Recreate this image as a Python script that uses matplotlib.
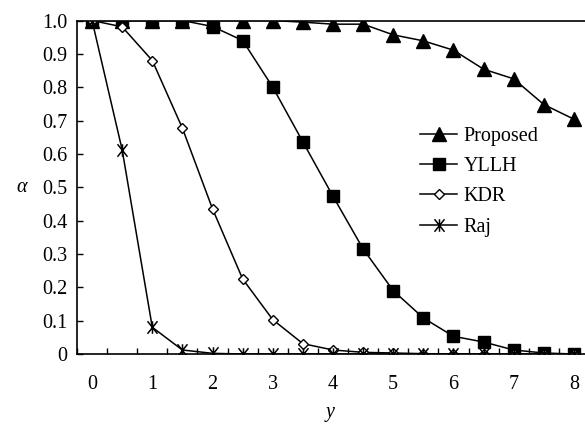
import numpy as np
import matplotlib
matplotlib.use('Agg')
import matplotlib.pyplot as plt
from matplotlib.path import Path

plt.rcParams['font.family'] = 'Liberation Serif'
plt.rcParams['font.size'] = 14.5

x = np.arange(0, 8.01, 0.5)

proposed = [1.0, 1.0, 1.0, 1.0, 1.0, 1.0, 1.0, 0.995, 0.989, 0.989, 0.957, 0.939,
            0.911, 0.854, 0.825, 0.748, 0.704]
yllh = [1.0, 1.0, 1.0, 1.0, 0.982, 0.94, 0.80, 0.636, 0.473, 0.315, 0.19, 0.108,
        0.053, 0.036, 0.012, 0.003, 0.0]
kdr = [1.0, 0.981, 0.88, 0.677, 0.435, 0.225, 0.103, 0.031, 0.012, 0.005, 0.003,
       0.001, 0.0, 0.0, 0.0, 0.0, 0.0]
raj = [1.0, 0.612, 0.08, 0.012, 0.002, 0.0, 0.0, 0.0, 0.0, 0.0, 0.0, 0.0,
       0.0, 0.0, 0.0, 0.0, 0.0]

ytick_vals = np.round(np.arange(0, 1.01, 0.1), 1)
ytick_labels = ['0'] + ['%.1f' % v for v in ytick_vals[1:]]
xtick_labels = [str(i) for i in range(9)]

# excel-like star: vertical bar plus an X
star = Path([(0, -1), (0, 1), (-0.8, -1), (0.8, 1), (-0.8, 1), (0.8, -1)],
            [Path.MOVETO, Path.LINETO, Path.MOVETO, Path.LINETO, Path.MOVETO, Path.LINETO])

fig = plt.figure(figsize=(5.85, 4.26), dpi=100)
ax = fig.add_axes([77/585, 72/426, 512/585, 333.5/426])

ax.plot(x, proposed, 'k-', marker='^', ms=9.5, lw=1.1, label='Proposed')
ax.plot(x, yllh, 'k-', marker='s', ms=9, lw=1.1, label='YLLH')
ax.plot(x, kdr, 'k-', marker='D', ms=5, mfc='white', mew=1.0, lw=1.1, label='KDR')
ax.plot(x, raj, 'k-', marker=star, ms=9, mew=1.1, lw=1.1, label='Raj')

ax.set_xlim(-0.25, 8.25)
ax.set_ylim(0, 1.0)

ax.set_xticks(np.arange(-0.25, 8.26, 0.5))
ax.set_xticklabels([])
ax.set_xticks(np.arange(0, 9), labels=xtick_labels, minor=True)
ax.tick_params(axis='x', which='major', direction='in', length=4.5, width=1)
ax.tick_params(axis='x', which='minor', length=0, pad=15)

ax.set_yticks(ytick_vals, labels=ytick_labels)
ax.tick_params(axis='y', direction='in', length=4.5, width=1, pad=7)

for s in ax.spines.values():
    s.set_linewidth(1.2)

fig.text(330/585, 1 - 413/426, 'y', style='italic', ha='center', va='center')
fig.text(22/585, 1 - 187/426, 'α', style='italic', ha='center', va='center')

ax.legend(loc='upper left', bbox_to_anchor=(420/585, 1 - 127/426),
          bbox_transform=fig.transFigure, frameon=False, borderpad=0,
          borderaxespad=0, handlelength=1.85, handletextpad=0.3,
          labelspacing=0.55)

fig.savefig('out.png', dpi=100)
